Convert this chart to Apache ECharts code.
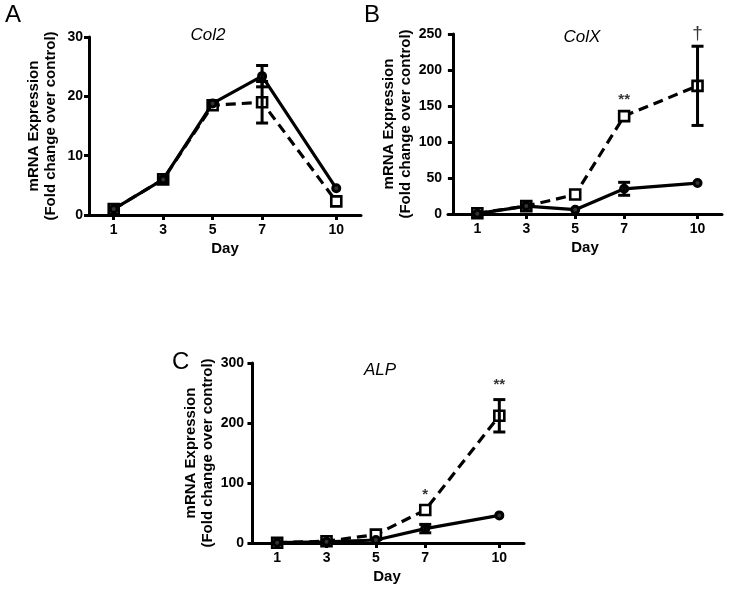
<!DOCTYPE html>
<html><head><meta charset="utf-8">
<script src="https://cdn.jsdelivr.net/npm/echarts@6/dist/echarts.min.js"></script>
<style>html,body{margin:0;padding:0;background:#fff}#c{width:729px;height:592px}</style>
</head><body><div id="c"></div>
<script>
const days = [1, 3, 5, 7, 10];
const dayTicks = [1, 3, 5, 7, 10];
// Col2
const col2Solid = [1, 6, 18.8, 23.4, 4.5];
const col2SolidErr = [0, 0, 0, 1.8, 0];
const col2Dashed = [1, 6, 18.5, 19, 2.3];
const col2DashedErr = [0, 0, 0, 3.5, 0];
// ColX
const colXSolid = [0.5, 11, 6, 35, 43];
const colXSolidErr = [0, 0, 0, 9, 0];
const colXDashed = [1, 11, 27, 136, 178];
const colXDashedErr = [0, 0, 0, 0, 55];
const colXAnnot = [[7, 158, '**'], [10, 250, '†']];
// ALP
const alpSolid = [0.5, 2, 5, 24, 46];
const alpSolidErr = [0, 0, 0, 7, 0];
const alpDashed = [0.5, 3, 14, 55, 212];
const alpDashedErr = [0, 0, 0, 0, 27];
const alpAnnot = [[7, 80, '*'], [10, 263, '**']];

const FONT = 'Liberation Sans, Arial, sans-serif';
const grids = [
  {left: 89, top: 37, width: 272, height: 178},
  {left: 448, top: 34, width: 274, height: 180},
  {left: 250, top: 363, width: 274, height: 180}
];
const xRanges = [[0, 11], [-0.2, 11], [-0.1, 11]];
const yCfg = [[0, 30, 10], [0, 250, 50], [0, 300, 100]];

function xAxis(i) {
  return {
    type: 'value', gridIndex: i, min: xRanges[i][0], max: xRanges[i][1],
    name: 'Day', nameLocation: 'middle', nameGap: 26,
    nameTextStyle: {fontFamily: FONT, fontWeight: 'bold', fontSize: 15, color: '#000'},
    axisLine: {lineStyle: {color: '#000', width: 3}},
    axisTick: {show: true, customValues: dayTicks, length: 5, lineStyle: {color: '#000', width: 3}},
    axisLabel: {customValues: dayTicks, margin: 8, fontFamily: FONT, fontWeight: 'bold', fontSize: 14, color: '#000'},
    splitLine: {show: false}
  };
}
function yAxis(i) {
  return {
    type: 'value', gridIndex: i, min: yCfg[i][0], max: yCfg[i][1], interval: yCfg[i][2],
    name: 'mRNA Expression\n(Fold change over control)', nameLocation: 'middle', nameRotate: 90, nameGap: 30,
    nameTextStyle: {fontFamily: FONT, fontWeight: 'bold', fontSize: 15, lineHeight: 17, color: '#000'},
    axisLine: {show: true, lineStyle: {color: '#000', width: 3}},
    axisTick: {show: true, length: 5, lineStyle: {color: '#000', width: 3}},
    axisLabel: {margin: 6, fontFamily: FONT, fontWeight: 'bold', fontSize: 14, color: '#000'},
    splitLine: {show: false}
  };
}
function lineSeries(i, vals, dashed) {
  return {
    type: 'line', xAxisIndex: i, yAxisIndex: i,
    data: days.map((d, k) => [d, vals[k]]),
    symbol: dashed ? 'rect' : 'circle', symbolSize: dashed ? 10 : 7, showSymbol: true,
    lineStyle: {color: '#000', width: 3.2, type: dashed ? [10, 6] : 'solid'},
    itemStyle: {color: dashed ? '#fff' : '#333', borderColor: '#000', borderWidth: dashed ? 2.6 : 3},
    z: dashed ? 3 : 4, silent: true
  };
}
function errSeries(i, vals, errs) {
  const data = [];
  days.forEach((d, k) => { if (errs[k] > 0) data.push([d, vals[k] - errs[k], vals[k] + errs[k]]); });
  return {
    type: 'custom', xAxisIndex: i, yAxisIndex: i, data: data,
    encode: {x: 0, y: [1, 2]}, z: 5, silent: true,
    renderItem: function (params, api) {
      const x = api.value(0);
      const lo = api.coord([x, api.value(1)]);
      const hi = api.coord([x, api.value(2)]);
      const w = 6;
      const st = {stroke: '#000', lineWidth: 3};
      return {type: 'group', children: [
        {type: 'line', shape: {x1: lo[0], y1: lo[1], x2: hi[0], y2: hi[1]}, style: st},
        {type: 'line', shape: {x1: lo[0] - w, y1: lo[1], x2: lo[0] + w, y2: lo[1]}, style: st},
        {type: 'line', shape: {x1: hi[0] - w, y1: hi[1], x2: hi[0] + w, y2: hi[1]}, style: st}
      ]};
    }
  };
}
function annotSeries(i, ann) {
  return {
    type: 'scatter', xAxisIndex: i, yAxisIndex: i, symbolSize: 1, clip: false,
    itemStyle: {color: 'rgba(0,0,0,0)'},
    data: ann.map(a => ({value: [a[0], a[1]], name: a[2]})),
    label: {show: true, position: 'inside', formatter: p => p.name, fontFamily: FONT,
      fontWeight: 'bold', fontSize: 15, color: '#000',
      rich: {}},
    silent: true, z: 6
  };
}
const titles = [
  {text: 'Col2', left: 203, top: 22},
  {text: 'ColX', left: 577, top: 24},
  {text: 'ALP', left: 375, top: 357}
].map(t => Object.assign(t, {textAlign: 'center', textStyle: {fontFamily: FONT, fontStyle: 'italic', fontWeight: 'normal', fontSize: 17, color: '#000'}}));

const chart = echarts.init(document.getElementById('c'), null, {renderer: 'canvas'});
const series = [
  lineSeries(0, col2Dashed, true), lineSeries(0, col2Solid, false),
  errSeries(0, col2Dashed, col2DashedErr), errSeries(0, col2Solid, col2SolidErr),
  lineSeries(1, colXDashed, true), lineSeries(1, colXSolid, false),
  errSeries(1, colXDashed, colXDashedErr), errSeries(1, colXSolid, colXSolidErr),
  annotSeries(1, colXAnnot),
  lineSeries(2, alpDashed, true), lineSeries(2, alpSolid, false),
  errSeries(2, alpDashed, alpDashedErr), errSeries(2, alpSolid, alpSolidErr),
  annotSeries(2, alpAnnot)
];
// dagger drawn a little larger and in normal weight
series[8].data[1].label = {fontSize: 19, fontWeight: 'normal'};
chart.setOption({
  animation: false,
  backgroundColor: '#fff',
  title: titles,
  grid: grids,
  xAxis: [0, 1, 2].map(xAxis),
  yAxis: [0, 1, 2].map(yAxis),
  graphic: [
    {type: 'text', left: 5, top: 3, style: {text: 'A', font: '24px ' + FONT, fill: '#000'}},
    {type: 'text', left: 364, top: 3, style: {text: 'B', font: '24px ' + FONT, fill: '#000'}},
    {type: 'text', left: 172, top: 350, style: {text: 'C', font: '24px ' + FONT, fill: '#000'}}
  ],
  series: series
});
</script></body></html>
